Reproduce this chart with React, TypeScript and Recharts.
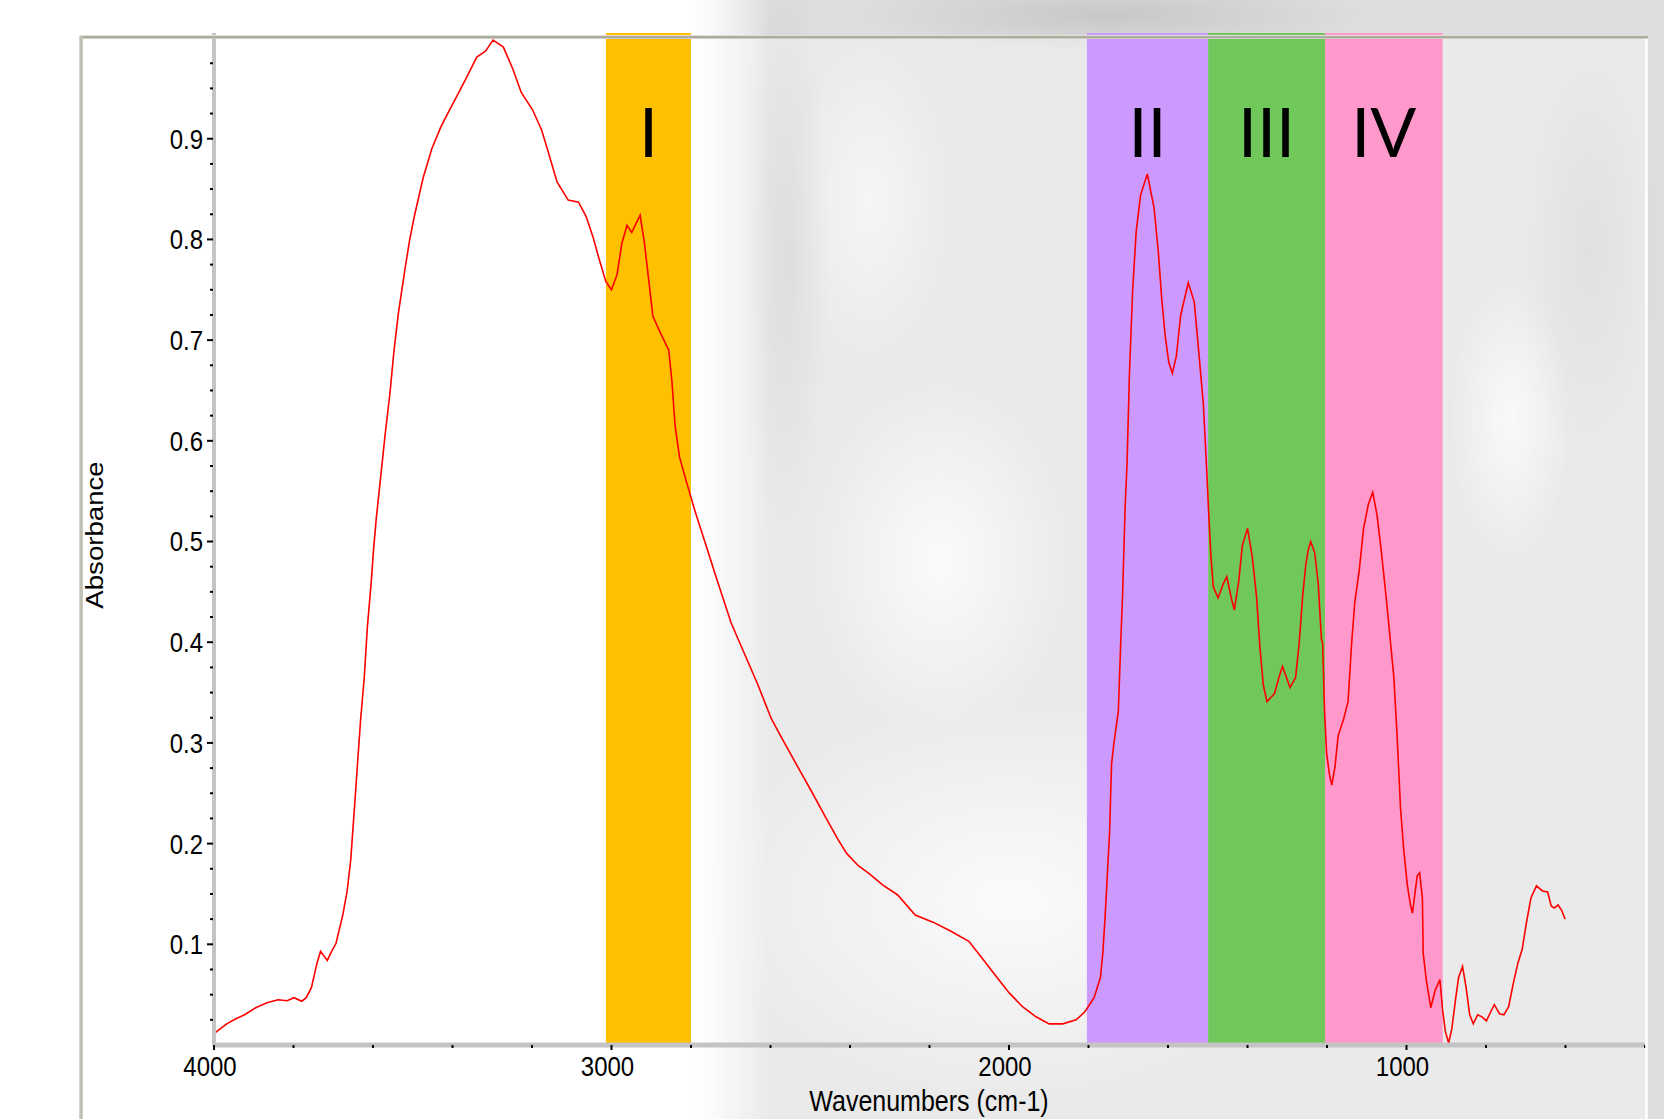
import React from "react";
import { LineChart, Line, XAxis, YAxis, ReferenceArea } from "recharts";

// FTIR spectrum (cm-1 / absorbance)
const wavenumbers = [
  3996, 3968, 3945, 3923, 3895, 3867, 3839, 3816, 3799, 3779, 3768, 3755, 3741, 3732, 3715, 3704,
  3693, 3676, 3665, 3656, 3648, 3639, 3631, 3622, 3614, 3605, 3599, 3592, 3581, 3569, 3558, 3547,
  3536, 3519, 3508, 3496, 3474, 3452, 3429, 3407, 3384, 3362, 3339, 3317, 3298, 3272, 3249, 3227,
  3199, 3176, 3160, 3137, 3109, 3083, 3064, 3047, 3030, 3014, 3000, 2986, 2974, 2961, 2949, 2928,
  2917, 2907, 2896, 2879, 2856, 2848, 2840, 2829, 2812, 2789, 2767, 2733, 2699, 2666, 2632, 2598,
  2565, 2531, 2497, 2464, 2430, 2408, 2379, 2351, 2318, 2280, 2236, 2191, 2146, 2101, 2067, 2034,
  2000, 1966, 1932, 1899, 1865, 1831, 1809, 1786, 1770, 1764, 1758, 1753, 1747, 1742, 1736, 1725,
  1719, 1714, 1708, 1703, 1697, 1689, 1680, 1669, 1652, 1635, 1624, 1616, 1607, 1598, 1589, 1579,
  1568, 1549, 1534, 1523, 1511, 1503, 1497, 1492, 1486, 1474, 1461, 1452, 1441, 1433, 1422, 1413,
  1400, 1388, 1377, 1369, 1360, 1351, 1332, 1321, 1312, 1302, 1293, 1279, 1270, 1261, 1253, 1247,
  1241, 1231, 1222, 1214, 1211, 1206, 1201, 1194, 1188, 1180, 1172, 1158, 1147, 1138, 1130, 1119,
  1108, 1096, 1085, 1074, 1063, 1051, 1041, 1032, 1024, 1015, 1007, 998, 990, 985, 978, 973,
  967, 960, 958, 950, 939, 928, 916, 909, 902, 894, 886, 877, 869, 859, 850, 841,
  832, 821, 810, 799, 788, 779, 766, 755, 743, 732, 720, 709, 698, 687, 673, 658,
  645, 636, 628, 619, 610, 601,
];

const absorbance = [
  0.0125, 0.021, 0.026, 0.03, 0.037, 0.042, 0.045, 0.044, 0.047, 0.0435, 0.047, 0.057, 0.081, 0.093, 0.084, 0.093,
  0.101, 0.129, 0.153, 0.184, 0.228, 0.279, 0.324, 0.365, 0.416, 0.457, 0.49, 0.522, 0.563, 0.608, 0.645, 0.69,
  0.727, 0.772, 0.799, 0.823, 0.861, 0.89, 0.912, 0.929, 0.946, 0.963, 0.981, 0.987, 0.998, 0.991, 0.97, 0.946,
  0.929, 0.909, 0.888, 0.857, 0.839, 0.837, 0.823, 0.803, 0.779, 0.758, 0.75, 0.765, 0.796, 0.814, 0.807, 0.824,
  0.796, 0.762, 0.724, 0.709, 0.69, 0.659, 0.615, 0.584, 0.56, 0.529, 0.502, 0.46, 0.419, 0.389, 0.358, 0.324,
  0.3, 0.276, 0.252, 0.228, 0.204, 0.19, 0.178, 0.17, 0.159, 0.149, 0.129, 0.122, 0.113, 0.103, 0.086, 0.069,
  0.052, 0.038, 0.028, 0.021, 0.021, 0.025, 0.033, 0.047, 0.067, 0.091, 0.129, 0.166, 0.211, 0.279, 0.3, 0.331,
  0.399, 0.45, 0.533, 0.578, 0.667, 0.749, 0.808, 0.844, 0.865, 0.831, 0.786, 0.742, 0.704, 0.678, 0.667, 0.684,
  0.725, 0.757, 0.738, 0.69, 0.636, 0.574, 0.523, 0.485, 0.455, 0.444, 0.458, 0.465, 0.444, 0.432, 0.461, 0.496,
  0.513, 0.485, 0.444, 0.396, 0.357, 0.341, 0.349, 0.365, 0.376, 0.365, 0.355, 0.365, 0.399, 0.447, 0.478, 0.492,
  0.5, 0.489, 0.458, 0.403, 0.399, 0.33, 0.29, 0.269, 0.258, 0.276, 0.307, 0.324, 0.341, 0.399, 0.44, 0.471,
  0.513, 0.537, 0.549, 0.526, 0.489, 0.444, 0.403, 0.366, 0.31, 0.235, 0.194, 0.159, 0.139, 0.131, 0.153, 0.168,
  0.171, 0.146, 0.091, 0.064, 0.037, 0.054, 0.065, 0.034, 0.013, 0.002, 0.016, 0.044, 0.067, 0.078, 0.057, 0.03,
  0.021, 0.03, 0.028, 0.024, 0.033, 0.04, 0.031, 0.03, 0.038, 0.06, 0.081, 0.095, 0.122, 0.146, 0.158, 0.153,
  0.152, 0.138, 0.136, 0.139, 0.134, 0.125,
];

// shaded regions
const bandNames = ["I", "II", "III", "IV"];
const bandStart = [3014, 1804, 1499, 1205];
const bandEnd = [2800, 1499, 1205, 909];
const bandColors = ["#FFC000", "#CC99FF", "#70C75A", "#FF99CC"];

// axes
const xLabelTicks = [4000, 3000, 2000, 1000];
const xTicks = [4000, 3800, 3600, 3400, 3200, 3000, 2800, 2600, 2400, 2200, 2000, 1800, 1600, 1400, 1200, 1000, 800, 600, 400];
const yLabelTicks = [0.1, 0.2, 0.3, 0.4, 0.5, 0.6, 0.7, 0.8, 0.9];
const yTicks = Array.from({ length: 39 }, (_, i) => Math.round((i + 1) * 25) / 1000);

const data = wavenumbers.map((wn, i) => ({ wn, a: absorbance[i] }));

const FONT = "'Liberation Sans', Arial, sans-serif";

function XTick(props: any) {
  const { x, y, payload } = props;
  const major = xLabelTicks.includes(payload.value);
  return (
    <g>
      <line x1={x} x2={x} y1={y} y2={y + (major ? 5 : 3)} stroke="#000" strokeWidth={2} />
      {major && (
        <text
          transform={`translate(${x - 4},${y + 30.5}) scale(1,1.17)`}
          textAnchor="middle"
          fontFamily={FONT}
          fontSize={24}
          fill="#000"
        >
          {payload.value}
        </text>
      )}
    </g>
  );
}

function YTick(props: any) {
  const { x, y, payload } = props;
  const v = payload.value;
  const major = yLabelTicks.some((t) => Math.abs(t - v) < 1e-6);
  return (
    <g>
      <line x1={x - 1} x2={x - (major ? 7 : 4)} y1={y} y2={y} stroke="#000" strokeWidth={2} />
      {major && (
        <text
          transform={`translate(${x - 11},${y + 9.9}) scale(1,1.15)`}
          textAnchor="end"
          fontFamily={FONT}
          fontSize={24}
          fill="#000"
        >
          {v.toFixed(1)}
        </text>
      )}
    </g>
  );
}

const photoBackground = [
  "linear-gradient(to right, #ffffff 0px, rgba(255,255,255,0.8) 25px, rgba(255,255,255,0) 80px)",
  "radial-gradient(ellipse 45px 300px at 95px 260px, rgba(190,190,188,0.65), rgba(190,190,188,0))",
  "radial-gradient(ellipse 130px 180px at 250px 560px, rgba(255,255,255,0.8), rgba(255,255,255,0))",
  "radial-gradient(ellipse 80px 160px at 180px 200px, rgba(255,255,255,0.55), rgba(255,255,255,0))",
  "radial-gradient(ellipse 300px 200px at 320px 900px, rgba(255,255,255,0.8), rgba(255,255,255,0))",
  "radial-gradient(ellipse 60px 140px at 820px 420px, rgba(255,255,255,0.75), rgba(255,255,255,0))",
  "radial-gradient(ellipse 70px 220px at 900px 250px, rgba(196,196,194,0.6), rgba(196,196,194,0))",
  "radial-gradient(ellipse 260px 40px at 420px 15px, rgba(190,190,188,0.7), rgba(190,190,188,0))",
  "#dedede",
].join(",");

export default function App() {
  return (
    <div
      style={{
        position: "absolute",
        left: 0,
        top: 0,
        width: 1664,
        height: 1119,
        background: "#ffffff",
        overflow: "hidden",
      }}
    >
      {/* faded photo behind the right part of the slide */}
      <div style={{ position: "absolute", left: 690, top: 0, width: 974, height: 1119, background: photoBackground }} />
      <div
        style={{
          position: "absolute",
          left: 690,
          top: 39,
          width: 956,
          height: 1080,
          background: "rgba(255,255,255,0.38)",
        }}
      />

      <div style={{ position: "absolute", left: 0, top: 0 }}>
        <LineChart width={1664} height={1119} data={data} margin={{ top: 33, right: 19, bottom: 0, left: 0 }}>
          {bandNames.map((name, i) => (
            <ReferenceArea
              key={name}
              x1={bandStart[i]}
              x2={bandEnd[i]}
              y1={0}
              y2={1.005}
              fill={bandColors[i]}
              fillOpacity={1}
              stroke="none"
              ifOverflow="visible"
              label={{
                value: name,
                position: "insideTop",
                offset: 76,
                fontSize: 68,
                fontFamily: "Lato, 'Open Sans', sans-serif",
                fill: "#000",
              }}
            />
          ))}
          <XAxis
            dataKey="wn"
            type="number"
            domain={[400, 4000]}
            reversed
            ticks={xTicks}
            interval={0}
            height={74}
            allowDataOverflow
            axisLine={{ stroke: "#c4c4c4", strokeWidth: 5 }}
            tickLine={false}
            tickSize={0}
            tickMargin={0}
            tick={<XTick />}
          />
          <YAxis
            type="number"
            domain={[0, 1.005]}
            ticks={yTicks}
            interval={0}
            width={214}
            allowDataOverflow
            axisLine={{ stroke: "#c4c4c4", strokeWidth: 4 }}
            tickLine={false}
            tickSize={0}
            tickMargin={0}
            tick={<YTick />}
          />
          <Line
            dataKey="a"
            type="linear"
            stroke="#ff0000"
            strokeWidth={1.6}
            dot={false}
            activeDot={false}
            isAnimationActive={false}
          />
        </LineChart>
      </div>

      {/* axis titles */}
      <svg
        width={1664}
        height={1119}
        style={{ position: "absolute", left: 0, top: 0, pointerEvents: "none" }}
      >
        <text
          transform="translate(103,535) rotate(-90) scale(1.15,1)"
          textAnchor="middle"
          fontFamily={FONT}
          fontSize={24}
          fill="#000"
        >
          Absorbance
        </text>
        <text
          transform="translate(929,1111) scale(1,1.2)"
          textAnchor="middle"
          fontFamily={FONT}
          fontSize={25}
          fill="#000"
        >
          Wavenumbers (cm-1)
        </text>
      </svg>

      {/* slide frame */}
      <div
        style={{
          position: "absolute",
          left: 80,
          top: 35,
          width: 1568,
          height: 4,
          background: "linear-gradient(#e0e0d8 0px, #e0e0d8 1px, #aeab9f 1px, #aeab9f 3px, #cfcdc3 3px)",
        }}
      />
      <div
        style={{
          position: "absolute",
          left: 79,
          top: 36,
          width: 4,
          height: 1083,
          background: "linear-gradient(to right, #e0dfd6, #b9b6a8 50%, #d5d3c8)",
        }}
      />
      <div
        style={{
          position: "absolute",
          left: 1645,
          top: 39,
          width: 3,
          height: 1080,
          background: "rgba(255,255,255,0.85)",
        }}
      />
    </div>
  );
}
